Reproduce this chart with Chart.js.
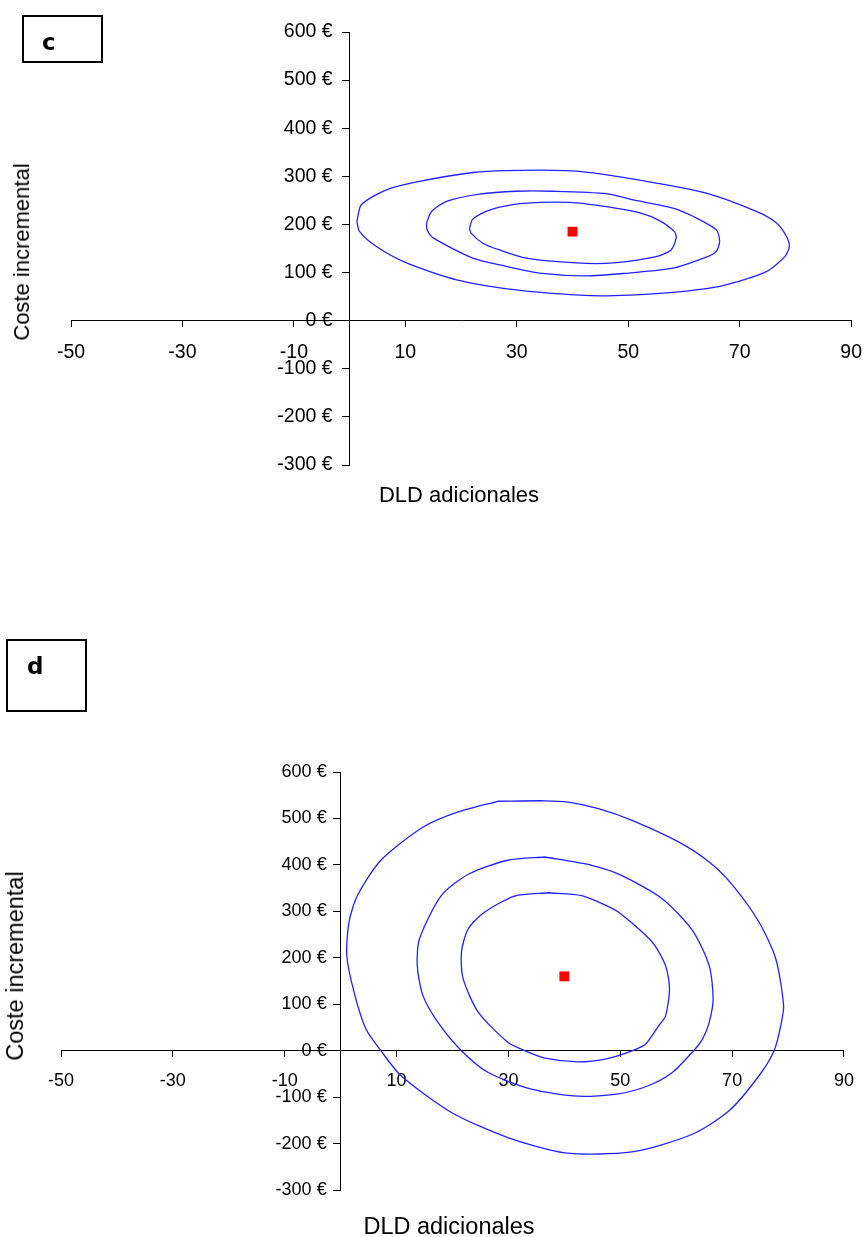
<!DOCTYPE html>
<html lang="es">
<head>
<meta charset="UTF-8">
<title>Coste incremental frente a DLD adicionales</title>
<script src="https://cdn.jsdelivr.net/npm/chart.js"></script>
<style>
  body { margin: 0; background: #fff; font-family: "Liberation Sans", Arial, sans-serif; color: #000; }
  .page { position: relative; width: 865px; height: 1237px; overflow: hidden; }
  canvas { position: absolute; left: 0; }
  .tag { position: absolute; box-sizing: border-box; border: 2px solid #000; }
  .tag span { position: absolute; font-family: "DejaVu Sans", Verdana, sans-serif; font-weight: bold; font-size: 23px; line-height: 23px; }
  .xtitle { position: absolute; white-space: nowrap; line-height: 22px; transform: translateX(-50%); }
  .ytitle { position: absolute; white-space: nowrap; line-height: 22px; transform: translate(-50%, -50%) rotate(-90deg); }
</style>
</head>
<body>
<div class="page">
  <!-- canvases are a bit wider than the page so the x axis ends where the original does -->
  <canvas id="chartC" width="876" height="520" style="top:0"></canvas>
  <canvas id="chartD" width="868" height="617" style="top:620px"></canvas>

  <div class="tag" style="left:22px; top:15px; width:81px; height:48px;"><span style="left:18px; top:14px;">c</span></div>
  <div class="tag" style="left:6px; top:639px; width:81px; height:73px;"><span style="left:19px; top:14px;">d</span></div>

  <div class="ytitle" style="left:22px; top:252px; font-size:22px;">Coste incremental</div>
  <div class="xtitle" style="left:459px; top:484px; font-size:22px;">DLD adicionales</div>

  <div class="ytitle" style="left:15px; top:966px; font-size:23.5px;">Coste incremental</div>
  <div class="xtitle" style="left:449px; top:1215px; font-size:23.5px;">DLD adicionales</div>
</div>

<script>
// tick values shared by both panels
const xTicks = [-50, -30, -10, 10, 30, 50, 70, 90];
const yTicks = [-300, -200, -100, 0, 100, 200, 300, 400, 500, 600];

// panel c: confidence contours (DLD adicionales, coste incremental)
const cOuter = [[1.3,206],[2.1,241],[6.6,272],[12.3,289],[22.1,308],[28.1,312],[38.9,312],[43.7,307],
  [55.0,286],[64.0,265],[73.0,227],[76.6,203],[78.4,175],[78.9,154],[78.1,133],[74.8,102],[67.0,73],
  [58.0,59],[47.3,52],[41.3,53],[29.9,64],[19.2,85],[10.2,120],[4.8,154],[1.8,185],[1.3,206]];
const cMiddle = [[13.8,203],[14.7,227],[17.4,248],[23.3,263],[29.9,269],[36.5,269],[46.1,264],[50.9,251],
  [58.0,234],[61.6,217],[65.8,189],[66.4,165],[65.8,144],[64.0,132],[58.0,109],[49.1,98],[42.5,93],
  [34.1,99],[28.1,113],[22.1,130],[15.0,172],[13.9,189],[13.8,203]];
const cInner = [[21.5,192],[22.1,211],[24.5,227],[26.9,236],[31.1,244],[39.5,246],[46.1,237],[52.1,224],
  [55.6,208],[58.3,185],[58.6,172],[57.7,147],[55.0,133],[47.3,120],[40.7,120],[31.7,130],[26.9,147],
  [23.9,161],[21.8,182],[21.5,192]];
const cPoint = [40, 185];

// panel d
const dOuter = [[28.1,537],[36.5,538],[40.7,535],[46.1,521],[52.1,496],[60.5,449],[65.9,406],[70.1,356],
  [74.8,277],[77.8,198],[79.2,97],[78.7,54],[77.5,0],[74.8,-54],[69.5,-129],[62.9,-180],[52.1,-218],
  [40.1,-220],[29.9,-187],[19.8,-133],[10.8,-54],[7.2,0],[4.5,47],[2.4,126],[1.1,205],[1.5,277],
  [3.0,334],[7.2,410],[14.7,481],[21.0,514],[28.1,537]];
const dMiddle = [[36.5,417],[44.9,399],[50.3,377],[57.5,327],[62.9,259],[65.9,183],[66.6,111],[65.9,61],
  [64.7,25],[62.9,-3],[59.3,-47],[55.1,-75],[49.7,-93],[42.5,-98],[34.1,-83],[26.4,-47],[21.6,0],
  [17.4,61],[14.7,119],[13.7,183],[14.1,241],[18.0,334],[23.0,381],[29.9,410],[36.5,417]];
const dInner = [[37.1,340],[43.1,334],[46.1,320],[49.7,298],[55.7,234],[58.1,183],[58.8,133],[58.1,75],
  [56.9,54],[54.5,14],[51.5,-3],[47.3,-18],[42.5,-24],[36.5,-16],[32.9,0],[29.9,18],[24.6,83],
  [21.9,155],[21.6,212],[22.8,262],[25.7,298],[31.1,333],[37.1,340]];
const dPoint = [40, 160];

const FONT = '"Liberation Sans", Arial, sans-serif';

// y labels of an axis crossing at x=0 get no padding in Chart.js, so draw them here
const yLabels = {
  id: 'yLabels',
  beforeDatasetsDraw(chart, args, opts) {
    const {ctx, scales} = chart;
    const x0 = scales.x.getPixelForValue(0);
    ctx.save();
    ctx.font = opts.size + 'px ' + FONT;
    ctx.fillStyle = '#000';
    ctx.textAlign = 'right';
    ctx.textBaseline = 'middle';
    yTicks.forEach(v => ctx.fillText(v + ' €', x0 - opts.gap, scales.y.getPixelForValue(v)));
    ctx.restore();
  }
};

function contour(pts) {
  return {
    data: pts.map(p => ({x: p[0], y: p[1]})),
    showLine: true,
    borderColor: '#2222ff',
    borderWidth: 1.3,
    pointRadius: 0,
    tension: 0.25,
    fill: false
  };
}

function makeChart(id, rings, pt, pad, fontSize, gap) {
  const datasets = rings.map(contour);
  datasets.push({
    data: [{x: pt[0], y: pt[1]}],
    pointStyle: 'rect',
    pointRadius: 7,
    backgroundColor: '#ff0000',
    borderWidth: 0
  });

  return new Chart(document.getElementById(id), {
    type: 'scatter',
    data: {datasets: datasets},
    plugins: [yLabels],
    options: {
      responsive: false,
      animation: false,
      layout: {padding: pad},
      plugins: {
        legend: {display: false},
        tooltip: {enabled: false},
        yLabels: {size: fontSize, gap: gap}
      },
      scales: {
        x: {
          type: 'linear',
          min: -50, max: 90,
          position: {y: 0},
          afterBuildTicks: axis => { axis.ticks = xTicks.map(v => ({value: v})); },
          grid: {drawOnChartArea: false, tickLength: 6, color: '#000'},
          border: {color: '#000', width: 1},
          ticks: {color: '#000', font: {family: FONT, size: fontSize}, padding: 14, maxRotation: 0, autoSkip: false}
        },
        y: {
          type: 'linear',
          min: -300, max: 600,
          position: {x: 0},
          afterBuildTicks: axis => { axis.ticks = yTicks.map(v => ({value: v})); },
          grid: {drawOnChartArea: false, tickLength: 7, color: '#000'},
          border: {color: '#000', width: 1},
          ticks: {display: false}
        }
      }
    }
  });
}

makeChart('chartC', [cOuter, cMiddle, cInner], cPoint, {left: 71, right: 0, top: 32, bottom: 55}, 19.5, 17);
makeChart('chartD', [dOuter, dMiddle, dInner], dPoint, {left: 61, right: 0, top: 152, bottom: 47}, 18, 14);
</script>
</body>
</html>
